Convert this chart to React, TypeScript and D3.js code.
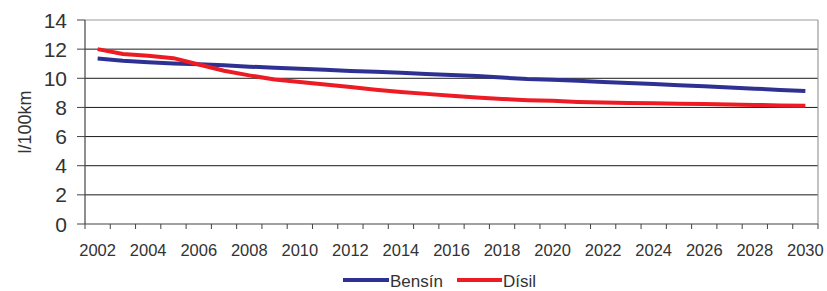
import React from 'react'
import * as d3 from 'd3'

// ár og eyðsla (l/100km)
const years = d3.range(2002, 2031)
const bensin = [11.35, 11.2, 11.1, 11.02, 10.97, 10.9, 10.8, 10.72, 10.66, 10.58, 10.5, 10.45, 10.38, 10.3,
    10.22, 10.15, 10.05, 9.95, 9.9, 9.83, 9.75, 9.68, 9.6, 9.52, 9.45, 9.37, 9.29, 9.2, 9.13]
const disil = [12.0, 11.67, 11.55, 11.38, 10.95, 10.52, 10.2, 9.92, 9.75, 9.57, 9.4, 9.22, 9.06, 8.93,
    8.8, 8.68, 8.58, 8.5, 8.45, 8.38, 8.33, 8.3, 8.28, 8.26, 8.24, 8.2, 8.17, 8.14, 8.12]
const yTicks = [0, 2, 4, 6, 8, 10, 12, 14]
const series = [
    { name: 'Bensín', values: bensin, color: '#2e3192' },
    { name: 'Dísil', values: disil, color: '#ed1c24' },
]

const W = 827
const H = 291
const margin = { left: 85, right: 9, top: 20, bottom: 67 }
const font = 'Arial, "Liberation Sans", sans-serif'
const textColor = '#333'

export default function App() {
    const x = d3.scaleBand<number>()
        .domain(years)
        .range([margin.left, W - margin.right])
    const y = d3.scaleLinear()
        .domain([0, 14])
        .range([H - margin.bottom, margin.top])

    const line = d3.line<number>()
        .x((d, i) => x(years[i])! + x.bandwidth() / 2)
        .y((d) => y(d))

    const x0 = margin.left
    const x1 = W - margin.right
    // tick marks sit on the band edges
    const edges = years.map((yr) => x(yr)!).concat([x1])

    return (
        <div style={{ position: 'fixed', left: 0, top: 0 }}>
            <svg width={W} height={H} style={{ display: 'block', background: '#fff' }}>
                {/* gridlines */}
                {yTicks.filter((t) => t > 0 && t < 14).map((t) => (
                    <line key={t} x1={x0} x2={x1} y1={y(t)} y2={y(t)} stroke="#1a1a1a" strokeWidth={1} />
                ))}
                {/* plot frame top and right */}
                <line x1={x0} x2={x1} y1={y(14)} y2={y(14)} stroke="#9a9a9a" strokeWidth={1.2} />
                <line x1={x1} x2={x1} y1={y(14)} y2={y(0)} stroke="#9a9a9a" strokeWidth={1.2} />

                {/* y axis */}
                <line x1={x0} x2={x0} y1={y(14)} y2={y(0)} stroke="#444" strokeWidth={1.2} />
                {yTicks.map((t) => (
                    <g key={t}>
                        <line x1={x0 - 8} x2={x0} y1={y(t)} y2={y(t)} stroke="#444" strokeWidth={1} />
                        <text x={67} y={y(t)} dy="0.36em" textAnchor="end" fontFamily={font} fontSize={21}
                            fill={textColor}>{t}</text>
                    </g>
                ))}
                <text transform={`translate(31,${(y(0) + y(14)) / 2}) rotate(-90)`} textAnchor="middle"
                    fontFamily={font} fontSize={18} fill={textColor}>l/100km</text>

                {/* x axis */}
                <line x1={x0} x2={x1} y1={y(0)} y2={y(0)} stroke="#444" strokeWidth={1.2} />
                {edges.map((e, i) => (
                    <line key={i} x1={e} x2={e} y1={y(0)} y2={y(0) + 5} stroke="#444" strokeWidth={1} />
                ))}
                {years.filter((yr) => yr % 2 === 0).map((yr) => (
                    <text key={yr} x={x(yr)! + x.bandwidth() / 2} y={255.5} textAnchor="middle"
                        fontFamily={font} fontSize={16.5} fill={textColor}>{yr}</text>
                ))}

                {/* lines */}
                {series.map((s) => (
                    <path key={s.name} d={line(s.values)!} fill="none" stroke={s.color} strokeWidth={4}
                        strokeLinejoin="round" />
                ))}

                {/* legend */}
                <line x1={343} x2={389} y1={280} y2={280} stroke={series[0].color} strokeWidth={4} />
                <text x={390} y={287.3} fontFamily={font} fontSize={17} fill={textColor}>{series[0].name}</text>
                <line x1={457} x2={502} y1={280} y2={280} stroke={series[1].color} strokeWidth={4} />
                <text x={503} y={287.3} fontFamily={font} fontSize={17} fill={textColor}>{series[1].name}</text>
            </svg>
        </div>
    )
}
